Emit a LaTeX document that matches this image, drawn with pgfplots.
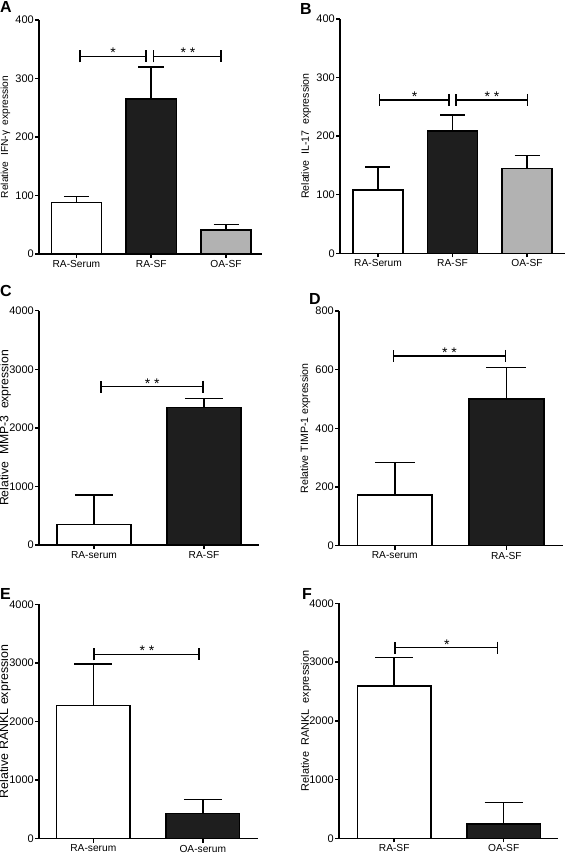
\documentclass[border=0pt]{standalone}
\usepackage{fontspec}
\setmainfont{Liberation Sans}
\usepackage{pgfplots}
\pgfplotsset{compat=1.18}
\usetikzlibrary{arrows.meta}
\definecolor{barblack}{HTML}{1E1E1E}
\definecolor{bargray}{HTML}{B2B2B2}
\pgfplotsset{
  gp/.style={
    scale only axis, anchor=south west, clip=false,
    axis x line*=bottom, axis y line*=left,
    axis line style={line width=1.5pt, black},
    tick align=outside, major tick length=4pt,
    tick style={line width=1.5pt, black},
    ymin=0,
    xtick pos=bottom, ytick pos=left,
    /pgf/number format/assume math mode=true,
    /pgf/number format/1000 sep={},
    yticklabel style={font=\fontsize{11}{11}\selectfont, inner sep=1pt},
    xticklabel style={font=\fontsize{10.2}{11}\selectfont, inner sep=2pt},
    ylabel style={at={(axis description cs:-0.15,0.5)}, anchor=center},
  },
  gbar/.style 2 args={ybar, bar width=0.67, bar shift=0pt, fill=#1, draw=black, line width=1.5pt,
    error bars/.cd, y dir=plus, y explicit,
    error bar style={line width=1.5pt, black},
    error mark options={rotate=90, mark size=#2, line width=1.5pt, black}},
  sig/.style={line width=1.5pt, black, {Bar[width=12pt]}-{Bar[width=12pt]}},
}
\newcommand{\sigstar}[2]{\node[anchor=base, inner sep=0pt, yshift=-1.5pt, font=\fontsize{14}{14}\selectfont] at (axis cs:#1) {#2};}
\begin{document}
\begin{tikzpicture}
\path[use as bounding box] (0,0) rectangle (567pt,855pt);
% A
\begin{axis}[gp, at={(39pt,601pt)}, width=223pt, height=234pt,
  xmin=-0.5, xmax=2.48, ymax=400, ytick={0,100,200,300,400},
  xtick={0,1,2}, xticklabels={RA-Serum,RA-SF,OA-SF},
  ylabel style={font=\fontsize{10.2}{11}\selectfont},
  ylabel={Relative\ \ IFN-γ\ \ expression}]
\addplot[gbar={white}{12.5pt}] coordinates {(0,87.7) +- (0,10.3)};
\addplot[gbar={barblack}{13pt}] coordinates {(1,265) +- (0,55)};
\addplot[gbar={bargray}{12.5pt}] coordinates {(2,41) +- (0,9.8)};
\addplot[sig] coordinates {(0.04,338) (0.94,338)};
\addplot[sig] coordinates {(1.02,338) (1.94,338)};
\sigstar{0.49,338}{*}
\sigstar{1.49,338}{*~*}
\end{axis}
% B
\begin{axis}[gp, at={(340pt,601.7pt)}, width=225pt, height=234.3pt,
  xmin=-0.51, xmax=2.51, ymax=400, ytick={0,100,200,300,400},
  xtick={0,1,2}, xticklabels={RA-Serum,RA-SF,OA-SF},
  ylabel style={font=\fontsize{10.6}{11}\selectfont},
  ylabel={Relative\ \ IL-17\ \ expression}]
\addplot[gbar={white}{12.5pt}] coordinates {(0,108) +- (0,39)};
\addplot[gbar={barblack}{12.5pt}] coordinates {(1,209) +- (0,27)};
\addplot[gbar={bargray}{12.5pt}] coordinates {(2,145) +- (0,22)};
\addplot[sig] coordinates {(0.01,262) (0.96,262)};
\addplot[sig] coordinates {(1.04,262) (2.02,262)};
\sigstar{0.49,262}{*}
\sigstar{1.53,262}{*~*}
\end{axis}
% C
\begin{axis}[gp, at={(39pt,310pt)}, width=220pt, height=234.3pt,
  xmin=-0.5, xmax=1.5, ymax=4000, ytick={0,1000,2000,3000,4000},
  xtick={0,1}, xticklabels={RA-serum,RA-SF},
  ylabel style={font=\fontsize{12.2}{13}\selectfont, at={(axis description cs:-0.153,0.5)}},
  ylabel={Relative\ \ MMP-3\ \ expression}]
\addplot[gbar={white}{19pt}] coordinates {(0,353) +- (0,500)};
\addplot[gbar={barblack}{19pt}] coordinates {(1,2344) +- (0,160)};
\addplot[sig] coordinates {(0.055,2703) (1.0,2703)};
\sigstar{0.53,2703}{*~*}
\end{axis}
% D
\begin{axis}[gp, at={(339pt,309.3pt)}, width=224.3pt, height=234.7pt,
  xmin=-0.5, xmax=1.51, ymax=800, ytick={0,200,400,600,800},
  xtick={0,1}, xticklabels={RA-serum,RA-SF},
  ylabel style={font=\fontsize{10.6}{11}\selectfont},
  ylabel={Relative TIMP-1 expression}]
\addplot[gbar={white}{20pt}] coordinates {(0,173) +- (0,110)};
\addplot[gbar={barblack}{20pt}] coordinates {(1,500) +- (0,108)};
\addplot[sig] coordinates {(-0.02,647) (1.0,647)};
\sigstar{0.49,647}{*~*}
\end{axis}
% E
\begin{axis}[gp, at={(39pt,16.3pt)}, width=219.3pt, height=234.4pt,
  xmin=-0.496, xmax=1.507, ymax=4000, ytick={0,1000,2000,3000,4000},
  xtick={0,1}, xticklabels={RA-serum,OA-serum},
  ylabel style={font=\fontsize{12.4}{13}\selectfont, at={(axis description cs:-0.155,0.5)}},
  ylabel={Relative RANKL expression}]
\addplot[gbar={white}{19pt}] coordinates {(0,2270) +- (0,711)};
\addplot[gbar={barblack}{19pt}] coordinates {(1,433) +- (0,239)};
\addplot[sig] coordinates {(0.0,3146) (0.97,3146)};
\sigstar{0.49,3146}{*~*}
\end{axis}
% F
\begin{axis}[gp, at={(339pt,16.7pt)}, width=219pt, height=235pt,
  xmin=-0.504, xmax=1.496, ymax=4000, ytick={0,1000,2000,3000,4000},
  xtick={0,1}, xticklabels={RA-SF,OA-SF},
  ylabel style={font=\fontsize{10.9}{11}\selectfont},
  ylabel={Relative\ \ RANKL\ \ expression}]
\addplot[gbar={white}{19pt}] coordinates {(0,2592) +- (0,482)};
\addplot[gbar={barblack}{19pt}] coordinates {(1,243) +- (0,363)};
\addplot[sig] coordinates {(0.0,3244) (0.95,3244)};
\sigstar{0.48,3244}{*}
\end{axis}
% panel letters
\begin{scope}[every node/.style={anchor=north west, inner sep=0pt, font=\bfseries\fontsize{16}{16}\selectfont}]
\node at (0pt,854pt) {A};
\node at (300pt,852pt) {B};
\node at (0pt,570pt) {C};
\node at (309pt,562pt) {D};
\node at (0pt,267pt) {E};
\node at (302pt,267pt) {F};
\end{scope}
\end{tikzpicture}
\end{document}
